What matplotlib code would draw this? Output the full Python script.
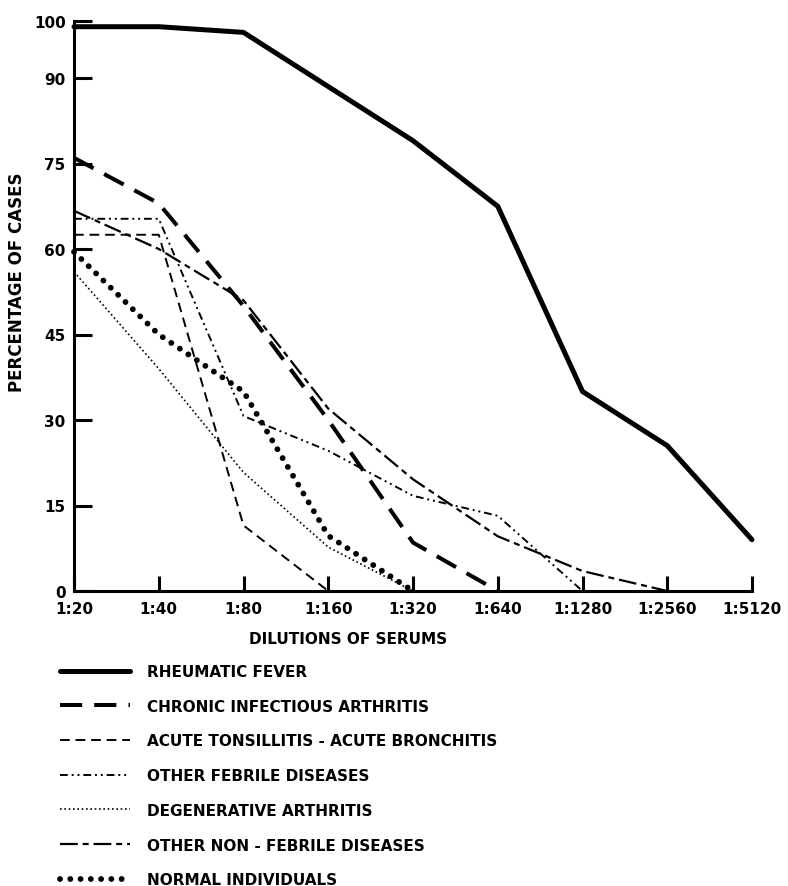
import matplotlib
matplotlib.use("Agg")
import matplotlib.pyplot as plt

# dilution steps and percentages
dilutions = ["1:20", "1:40", "1:80", "1:160", "1:320", "1:640", "1:1280", "1:2560", "1:5120"]
y_ticks = [0, 15, 30, 45, 60, 75, 90, 100]

rheumatic = [99, 99, 98, 88.5, 79, 67.5, 35, 25.5, 9]
chronic = [76, 68, 50, 30, 8.5, 0]
acute = [62.5, 62.5, 11.5, 0]
febrile = [65.3, 65.3, 30.7, 24.6, 16.7, 13.2, 0]
degenerative = [56, 39, 20.8, 7.7, 0]
non_febrile = [66.7, 60, 51, 32, 19.6, 9.6, 3.5, 0]
normal = [59.5, 45, 35, 9.7, 0]

labels = ["RHEUMATIC FEVER",
          "CHRONIC INFECTIOUS ARTHRITIS",
          "ACUTE TONSILLITIS - ACUTE BRONCHITIS",
          "OTHER FEBRILE DISEASES",
          "DEGENERATIVE ARTHRITIS",
          "OTHER NON - FEBRILE DISEASES",
          "NORMAL INDIVIDUALS"]

plt.rcParams['font.family'] = ['DejaVu Sans']
plt.rcParams['font.weight'] = 'bold'

fig = plt.figure(figsize=(7.88, 8.87), dpi=100)
ax = fig.add_axes([74/788, 1 - 592/887, 678/788, 570/887])

series = [rheumatic, chronic, acute, febrile, degenerative, non_febrile, normal]
styles = [
    dict(lw=3.6, ls='-', solid_capstyle='round'),
    dict(lw=2.9, ls=(0, (5.5, 3))),
    dict(lw=1.4, ls=(0, (5, 3))),
    dict(lw=1.4, ls=(0, (4, 2, 1, 2, 1, 2))),
    dict(lw=1.2, ls=(0, (1, 1.6))),
    dict(lw=1.6, ls=(0, (8, 2.2, 2.7, 2.2))),
    dict(lw=4.2, ls=(0, (0.01, 1.75)), dash_capstyle='round'),
]
handles = []
for vals, st, lab in zip(series, styles, labels):
    h, = ax.plot(range(len(vals)), vals, color='black', clip_on=False, label=lab, **st)
    handles.append(h)

ax.set_xlim(0, 8)
ax.set_ylim(0, 100)
ax.spines['top'].set_visible(False)
ax.spines['right'].set_visible(False)
for s in ['left', 'bottom']:
    ax.spines[s].set_linewidth(2.2)

ax.set_xticks(range(len(dilutions)))
ax.set_xticklabels(dilutions)
ax.set_yticks(y_ticks)
ax.tick_params(axis='y', direction='in', length=13, width=2.2, pad=6, labelsize=11)
ax.tick_params(axis='x', direction='in', length=11, width=2.2, pad=7, labelsize=11)

fig.text(17/788, 1 - 282/887, "PERCENTAGE OF CASES", rotation=90, ha='center', va='center',
         fontsize=12, fontweight='bold')
fig.text(348/788, 1 - 640/887, "DILUTIONS OF SERUMS", ha='center', va='center',
         fontsize=11, fontweight='bold')

fig.legend(handles=handles, loc='upper left', bbox_to_anchor=(60/788, 1 - 665/887),
           frameon=False, fontsize=11, handlelength=4.6, handletextpad=1.1,
           labelspacing=1.29, borderpad=0, borderaxespad=0)

fig.savefig("out.png", dpi=100)
